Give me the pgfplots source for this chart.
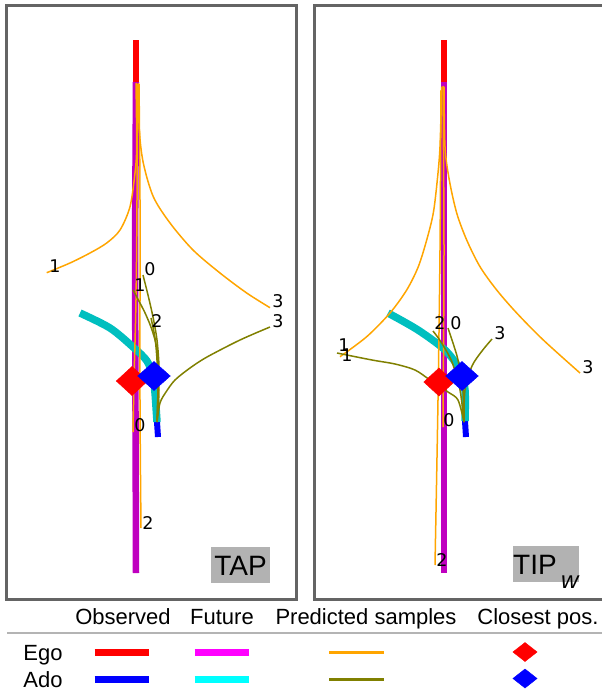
\documentclass[border=0pt]{standalone}
\usepackage{pgfplots}
\pgfplotsset{compat=1.18}
\usepackage{fontspec}
\setmainfont{Liberation Sans}
\newfontfamily\djfont{DejaVu Sans}
\definecolor{mpm}{RGB}{191,0,191}
\definecolor{mpc}{RGB}{0,191,191}
\definecolor{pmag}{RGB}{255,0,255}
\definecolor{pcyan}{RGB}{0,255,255}
\definecolor{orng}{RGB}{255,165,0}
\definecolor{olv}{RGB}{128,128,0}
\definecolor{framegray}{RGB}{100,100,100}
\definecolor{boxgray}{RGB}{178,178,178}
\definecolor{rulegray}{RGB}{180,180,180}
\begin{document}
\begin{tikzpicture}
\useasboundingbox (0,0) rectangle (602pt,694pt);
\begin{axis}[at={(0,0)}, anchor=south west, width=602pt, height=694pt, scale only axis,
  xmin=0, xmax=602, ymin=0, ymax=694, y dir=reverse, hide axis, clip=false]
% frames
\draw[framegray, line width=3pt] (axis cs:6.5,5.5) rectangle (axis cs:296.5,599.5);
\draw[framegray, line width=3pt] (axis cs:314.5,5.5) rectangle (axis cs:606,599.5);
% ===== LEFT PANEL =====
\addplot[red, line width=6pt] coordinates {(136,40) (136,82)};
\addplot[mpm, line width=6.5pt] coordinates {(136,82) (135,250) (136,573)};
\addplot[blue, line width=6pt] coordinates {(157,422) (158,437)};
\addplot[mpc, line width=7.5pt, smooth] coordinates {(80,313) (110,328) (133,347) (147,361) (153,377) (155,393) (157,422)};
\addplot[red, only marks, mark=diamond*, mark size=14.5pt, mark options={xscale=1.45, draw=red, fill=red}] coordinates {(132,381)};
\addplot[blue, only marks, mark=diamond*, mark size=14.5pt, mark options={xscale=1.5, draw=blue, fill=blue}] coordinates {(154,376)};
% ego samples
\addplot[orng, line width=1.5pt, smooth] coordinates {(137,84) (137,200) (136,300) (134,380) (133,432)};
\addplot[orng, line width=1.5pt, smooth] coordinates {(136,83) (136.7,146.7) (135,173) (130,206.7) (120,230) (106.7,243) (90,253) (70,263) (46.7,272.7)};
\addplot[orng, line width=1.5pt, smooth] coordinates {(139,84) (140,200) (140,400) (141,528)};
\addplot[orng, line width=1.5pt, smooth] coordinates {(138.3,83) (139.3,130) (143.3,163) (153.3,196.7) (170,223) (193,250) (220,273) (246.7,293) (270,307.7)};
% ado samples
\addplot[olv, line width=1.5pt, smooth] coordinates {(157,422) (158,390) (159,367) (157,340) (153,317) (148,295) (143,275)};
\addplot[olv, line width=1.5pt, smooth] coordinates {(157,422) (159,390) (157,350) (152,330) (146,315) (140,303) (133,290)};
\addplot[olv, line width=1.5pt, smooth] coordinates {(157,422) (158,390) (157,360) (155,338) (151,318)};
\addplot[olv, line width=1.5pt, smooth] coordinates {(157,422) (160,403) (166,392) (175,380) (190,368) (207,357) (240,340) (270,327)};
% labels
\begin{scope}[every node/.style={font=\djfont\fontsize{17.5}{17.5}\selectfont, inner sep=0pt}]
\node at (axis cs:55,266) {1};
\node at (axis cs:150,269) {0};
\node at (axis cs:140,285) {1};
\node at (axis cs:157,321) {2};
\node at (axis cs:278,301) {3};
\node at (axis cs:278,321) {3};
\node at (axis cs:140,425) {0};
\node at (axis cs:148,523) {2};
\end{scope}
\node[fill=boxgray, minimum width=59pt, minimum height=36pt, inner sep=0pt] at (axis cs:240.5,564.5) {};
\node[anchor=base, inner sep=0pt, font=\fontsize{28}{28}\selectfont] at (axis cs:240.5,575) {TAP};
% ===== RIGHT PANEL =====
\addplot[red, line width=6pt] coordinates {(444,40) (444,82)};
\addplot[mpm, line width=6.5pt] coordinates {(444,82) (444,573)};
\addplot[blue, line width=6pt] coordinates {(465,421) (466,437)};
\addplot[mpc, line width=7.5pt, smooth] coordinates {(388,313) (418,330) (445,350) (460,370) (465,390) (465,421)};
\addplot[red, only marks, mark=diamond*, mark size=14pt, mark options={xscale=1.45, draw=red, fill=red}] coordinates {(439,382)};
\addplot[blue, only marks, mark=diamond*, mark size=14.5pt, mark options={xscale=1.5, draw=blue, fill=blue}] coordinates {(462,376)};
% ego samples
\addplot[orng, line width=1.5pt, smooth] coordinates {(443,86) (444,250) (443,427)};
\addplot[orng, line width=1.5pt, smooth] coordinates {(441.7,86.7) (440,146.7) (437.3,180) (433.3,213) (426.7,240) (418.3,266.7) (406.7,290) (390,313) (366.7,336.7) (340,356.7)};
\addplot[orng, line width=1.5pt, smooth] coordinates {(441,90) (440,250) (438,400) (435,565)};
\addplot[orng, line width=1.5pt, smooth] coordinates {(444,86.7) (445,146.7) (449.3,180) (456.7,213) (466.7,240) (480,266.7) (496.7,290) (516.7,313) (543.3,340) (580,373)};
% ado samples
\addplot[olv, line width=1.5pt, smooth] coordinates {(464,422) (463,390) (458,360) (452,340) (448,328)};
\addplot[olv, line width=1.5pt, smooth] coordinates {(464,422) (458,400) (448,392) (430,380) (415,370) (395,364) (372,360) (337,353)};
\addplot[olv, line width=1.5pt, smooth] coordinates {(464,422) (460,390) (452,362) (441,342) (433,331)};
\addplot[olv, line width=1.5pt, smooth] coordinates {(464,422) (465,390) (472,366) (482,351) (492,339)};
\begin{scope}[every node/.style={font=\djfont\fontsize{17.5}{17.5}\selectfont, inner sep=0pt}]
\node at (axis cs:344,345) {1};
\node at (axis cs:347,355) {1};
\node at (axis cs:440,323) {2};
\node at (axis cs:456,323) {0};
\node at (axis cs:500,333) {3};
\node at (axis cs:588,367) {3};
\node at (axis cs:449,420) {0};
\node at (axis cs:442,560) {2};
\end{scope}
\node[fill=boxgray, minimum width=66pt, minimum height=36pt, inner sep=0pt] at (axis cs:546,564) {};
\node[anchor=base west, inner sep=0pt, font=\fontsize{28}{28}\selectfont] at (axis cs:513,574) {TIP};
\node[anchor=base west, inner sep=0pt, font=\fontsize{24}{24}\selectfont\itshape] at (axis cs:561,588) {w};
% ===== LEGEND TABLE =====
\begin{scope}[every node/.style={font=\fontsize{22}{22}\selectfont, inner sep=0pt, anchor=base}]
\node at (axis cs:123,624) {Observed};
\node at (axis cs:222,624) {Future};
\node at (axis cs:366,624) {Predicted samples};
\node at (axis cs:538,624) {Closest pos.};
\node at (axis cs:43,660) {Ego};
\node at (axis cs:43,687) {Ado};
\end{scope}
\draw[rulegray, line width=1.5pt] (axis cs:7,633) -- (axis cs:604,633);
\addplot[red, line width=6.5pt] coordinates {(94.5,652.5) (149,652.5)};
\addplot[blue, line width=6.5pt] coordinates {(94.5,679.3) (149,679.3)};
\addplot[pmag, line width=6.5pt] coordinates {(194.5,652.5) (248.5,652.5)};
\addplot[pcyan, line width=6.5pt] coordinates {(194.5,679.3) (248.5,679.3)};
\addplot[orng, line width=3pt] coordinates {(329,652.5) (384,652.5)};
\addplot[olv, line width=3pt] coordinates {(329,679.3) (384,679.3)};
\addplot[red, only marks, mark=diamond*, mark size=9.5pt, mark options={xscale=1.7, draw=red, fill=red}] coordinates {(525,652)};
\addplot[blue, only marks, mark=diamond*, mark size=9.5pt, mark options={xscale=1.7, draw=blue, fill=blue}] coordinates {(525,678.5)};
\end{axis}
\end{tikzpicture}
\end{document}
